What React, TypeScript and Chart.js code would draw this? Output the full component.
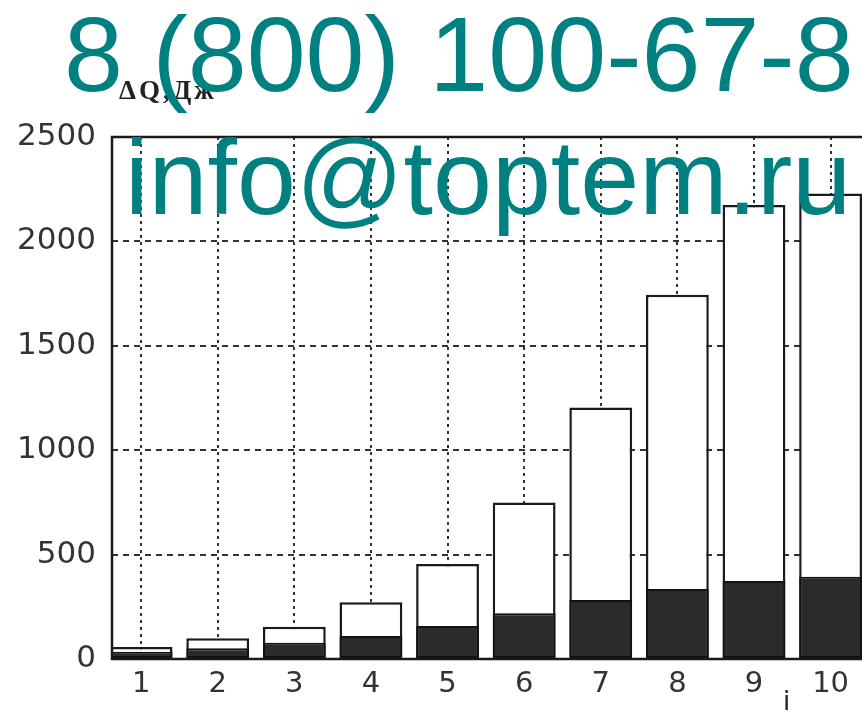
import React, { useEffect, useRef } from "react";
import { Chart, registerables } from "chart.js";

Chart.register(...registerables);

const categories = [1, 2, 3, 4, 5, 6, 7, 8, 9, 10];
const totalValues = [58, 99, 155, 272, 455, 750, 1205, 1745, 2174, 2230];
const lowerValues = [35, 51, 78, 110, 158, 219, 283, 335, 373, 394];
const yTicks = [0, 500, 1000, 1500, 2000, 2500];
const yLabel = "ΔQ,Дж";
const xLabel = "i";
const watermarkLines = ["8 (800) 100-67-8", "info@toptem.ru"];

const framePlugin = {
  id: "frame",
  afterDraw(chart: any) {
    const { ctx, chartArea } = chart;
    ctx.save();
    ctx.strokeStyle = "#1a1a1a";
    ctx.lineWidth = 2.5;
    ctx.beginPath();
    ctx.moveTo(chartArea.right + 5, chartArea.top);
    ctx.lineTo(chartArea.left, chartArea.top);
    ctx.lineTo(chartArea.left, chartArea.bottom);
    ctx.lineTo(chartArea.right + 5, chartArea.bottom);
    ctx.stroke();
    ctx.restore();
  },
};

export default function App() {
  const ref = useRef<HTMLCanvasElement>(null);

  useEffect(() => {
    document.body.style.margin = "0";
    const canvas = ref.current;
    if (!canvas) return;
    const chart = new Chart(canvas, {
      type: "bar",
      data: {
        datasets: [
          {
            label: "lower",
            data: categories.map((c, i) => ({ x: c, y: lowerValues[i] })),
            backgroundColor: "#2b2b2b",
            borderColor: "#111",
            borderWidth: 2,
            borderSkipped: false,
            grouped: false,
            order: 1,
            barPercentage: 0.82,
            categoryPercentage: 1,
          } as any,
          {
            label: "total",
            data: categories.map((c, i) => ({ x: c, y: totalValues[i] })),
            backgroundColor: "#ffffff",
            borderColor: "#1a1a1a",
            borderWidth: 2.5,
            borderSkipped: false,
            grouped: false,
            order: 2,
            barPercentage: 0.82,
            categoryPercentage: 1,
          } as any,
        ],
      },
      options: {
        animation: false,
        responsive: false,
        maintainAspectRatio: false,
        layout: { padding: { top: 137, right: 0, left: 0, bottom: 0 } },
        plugins: {
          legend: { display: false },
          tooltip: { enabled: false },
          title: { display: false },
        },
        scales: {
          x: {
            type: "linear",
            min: 0.62,
            max: 10.41,
            offset: false,
            grid: {
              offset: false,
              color: "#333",
              lineWidth: 2,
              drawTicks: false,
            },
            border: { display: false, dash: [3, 4] },
            afterBuildTicks: (scale: any) => {
              scale.ticks = categories.map((v) => ({ value: v }));
            },
            afterFit: (scale: any) => {
              scale.height = 52;
            },
            ticks: {
              padding: 8,
              color: "#333",
              font: { family: "DejaVu Sans", size: 29 },
              callback: (v: any) => String(v),
            },
          },
          y: {
            type: "linear",
            min: 0,
            max: 2500,
            grid: {
              color: "#333",
              lineWidth: 2,
              drawTicks: false,
            },
            border: { display: false, dash: [6, 5] },
            afterBuildTicks: (scale: any) => {
              scale.ticks = yTicks.map((v) => ({ value: v }));
            },
            afterFit: (scale: any) => {
              scale.width = 112;
            },
            ticks: {
              padding: 16,
              color: "#333",
              font: { family: "DejaVu Sans", size: 31 },
              callback: (v: any) => String(v),
            },
          },
        },
      },
      plugins: [framePlugin],
    });
    return () => chart.destroy();
  }, []);

  const wm: React.CSSProperties = {
    position: "absolute",
    fontFamily: '"Liberation Sans", Arial, sans-serif',
    fontSize: 106,
    lineHeight: 1,
    color: "#008080",
    whiteSpace: "nowrap",
    pointerEvents: "none",
  };

  return (
    <div style={{ position: "relative", width: 862, height: 711, overflow: "hidden", background: "#fff" }}>
      <canvas ref={ref} width={862} height={711} style={{ display: "block" }} />
      <div
        style={{
          position: "absolute",
          left: 119,
          top: 75,
          fontFamily: '"Liberation Serif", "DejaVu Serif", serif',
          fontSize: 27,
          fontWeight: "bold",
          letterSpacing: 3,
          color: "#222",
          whiteSpace: "nowrap",
        }}
      >
        {yLabel}
      </div>
      <div
        style={{
          position: "absolute",
          left: 783,
          top: 686,
          fontFamily: '"DejaVu Sans", sans-serif',
          fontSize: 26,
          color: "#222",
        }}
      >
        {xLabel}
      </div>
      <div style={{ ...wm, left: 64, top: 1 }}>{watermarkLines[0]}</div>
      <div style={{ ...wm, left: 125, top: 124 }}>{watermarkLines[1]}</div>
    </div>
  );
}
